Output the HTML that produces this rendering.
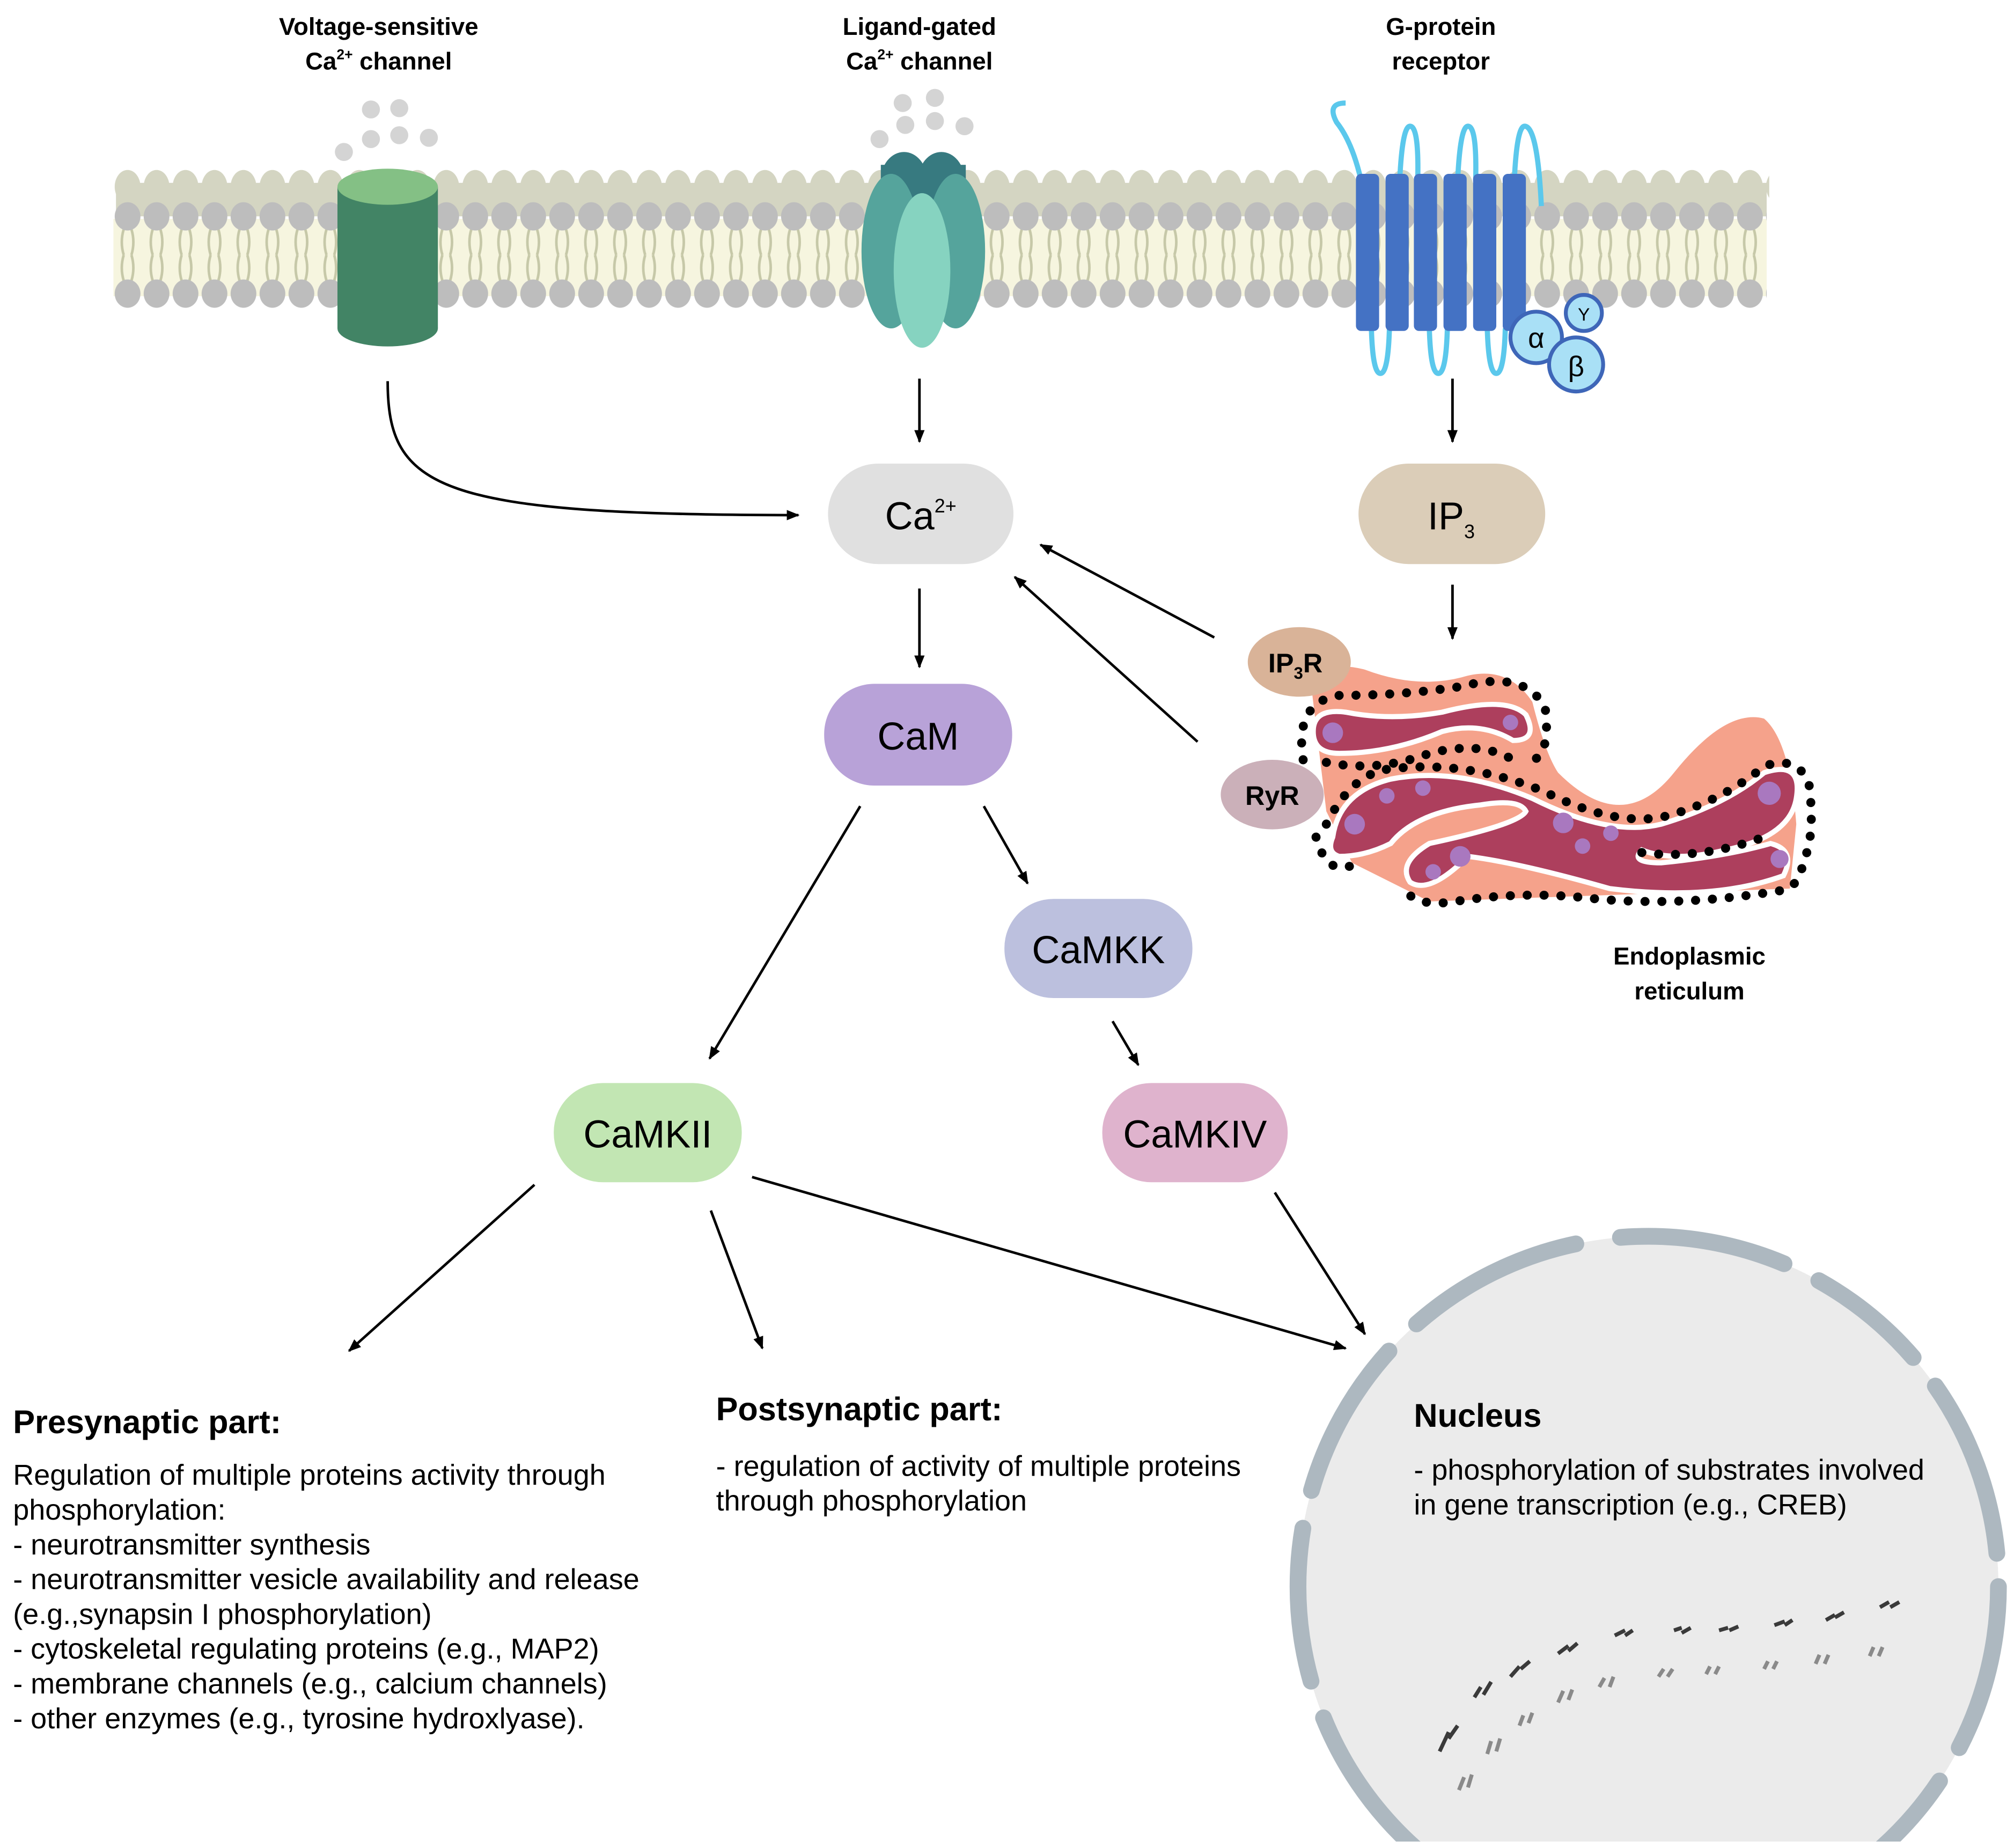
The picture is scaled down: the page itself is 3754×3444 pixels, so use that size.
<!DOCTYPE html>
<html><head><meta charset="utf-8"><style>
html,body{margin:0;padding:0;background:#fff}
svg{display:block}
text{font-family:"Liberation Sans",Arial,sans-serif}
</style></head><body>
<svg width="3754" height="3444" viewBox="0 0 1564 1435" xmlns="http://www.w3.org/2000/svg">
<defs>
<marker id="ah" markerWidth="10" markerHeight="8" refX="9" refY="4" orient="auto" markerUnits="userSpaceOnUse">
<path d="M0,0 L10,4 L0,8 Z" fill="#000"/></marker>
<pattern id="headsT" x="88" y="148" width="22.5" height="40" patternUnits="userSpaceOnUse">
<ellipse cx="11" cy="20" rx="10" ry="11" fill="#bdbdbd"/></pattern>
<pattern id="headsB" x="88" y="208" width="22.5" height="40" patternUnits="userSpaceOnUse">
<ellipse cx="11" cy="20" rx="10" ry="11" fill="#bdbdbd"/></pattern>
<pattern id="tails" x="88" y="178" width="22.5" height="40" patternUnits="userSpaceOnUse">
<path d="M8,0 q-3,10 0,20 M14,0 q3,10 0,20 M8,20 q-3,10 0,20 M14,20 q3,10 0,20" stroke="#c6c8a8" stroke-width="2" fill="none"/></pattern>
<pattern id="bumps" x="88" y="125" width="22.5" height="40" patternUnits="userSpaceOnUse">
<ellipse cx="11" cy="20" rx="10" ry="13" fill="#d4d5c2"/></pattern>
</defs>

<g font-weight="bold" font-size="19" text-anchor="middle" fill="#000">
<text x="294" y="27">Voltage-sensitive</text>
<text x="294" y="54">Ca<tspan font-size="11" dy="-8">2+</tspan><tspan dy="8"> channel</tspan></text>
<text x="714" y="27">Ligand-gated</text>
<text x="714" y="54">Ca<tspan font-size="11" dy="-8">2+</tspan><tspan dy="8"> channel</tspan></text>
<text x="1119" y="27">G-protein</text>
<text x="1119" y="54">receptor</text>
</g>

<rect x="90" y="142" width="1282" height="26" fill="#d4d5c2"/>
<rect x="88" y="125" width="1286" height="35" fill="url(#bumps)"/>
<rect x="88" y="170" width="1284" height="60" fill="#f6f5df"/>
<rect x="88" y="178" width="1284" height="40" fill="url(#tails)"/>
<rect x="88" y="148" width="1284" height="40" fill="url(#headsT)"/>
<rect x="88" y="208" width="1284" height="40" fill="url(#headsB)"/>

<g fill="#d4d4d4">
<circle cx="267" cy="118" r="7"/><circle cx="288" cy="108" r="7"/><circle cx="310" cy="105" r="7"/><circle cx="333" cy="107" r="7"/><circle cx="288" cy="85" r="7"/><circle cx="310" cy="84" r="7"/>
<circle cx="683" cy="108" r="7"/><circle cx="703" cy="97" r="7"/><circle cx="726" cy="94" r="7"/><circle cx="749" cy="98" r="7"/><circle cx="701" cy="80" r="7"/><circle cx="726" cy="76" r="7"/>
</g>

<rect x="262" y="145" width="78" height="110" fill="#428465"/>
<ellipse cx="301" cy="255" rx="39" ry="14" fill="#428465"/>
<ellipse cx="301" cy="145" rx="39" ry="14" fill="#84c085"/>

<ellipse cx="702" cy="140" rx="18" ry="22" fill="#377a80"/>
<ellipse cx="731" cy="140" rx="18" ry="22" fill="#377a80"/>
<rect x="684" y="128" width="66" height="30" fill="#377a80"/>
<ellipse cx="692" cy="195" rx="23" ry="60" fill="#55a49c"/>
<ellipse cx="742" cy="195" rx="23" ry="60" fill="#55a49c"/>
<ellipse cx="716" cy="210" rx="22" ry="60" fill="#86d3c0"/>

<g fill="none" stroke="#5bc8ec" stroke-width="4">
<path d="M1057,140 Q1050,110 1038,95 Q1030,80 1045,80"/>
<path d="M1087,140 Q1089,98 1095,98 Q1102,98 1101,140"/>
<path d="M1132,140 Q1134,98 1140,98 Q1147,98 1146,140"/>
<path d="M1176,140 Q1178,98 1184,98 Q1194,98 1197,160"/>
<path d="M1065,255 Q1066,290 1072,290 Q1078,290 1079,255"/>
<path d="M1110,255 Q1111,290 1117,290 Q1123,290 1124,255"/>
<path d="M1155,255 Q1156,290 1162,290 Q1168,290 1169,255"/>
</g>
<g fill="#4472c4">
<rect x="1053" y="135" width="18" height="122" rx="4"/><rect x="1076" y="135" width="18" height="122" rx="4"/><rect x="1098" y="135" width="18" height="122" rx="4"/><rect x="1121" y="135" width="18" height="122" rx="4"/><rect x="1144" y="135" width="18" height="122" rx="4"/><rect x="1167" y="135" width="18" height="122" rx="4"/>
</g>
<g fill="#a9e0f6" stroke="#3e66b8" stroke-width="3">
<circle cx="1230" cy="243" r="14"/>
<circle cx="1193" cy="262" r="20"/>
<circle cx="1224" cy="283" r="21"/>
</g>
<g text-anchor="middle" fill="#000">
<text x="1230" y="249" font-size="14">Y</text>
<text x="1193" y="270" font-size="22">α</text>
<text x="1224" y="292" font-size="22">β</text>
</g>

<g stroke="#000" stroke-width="2" fill="none" marker-end="url(#ah)">
<path d="M301,296 C301,380 340,400 620,400"/>
<path d="M714,294 L714,343"/>
<path d="M1128,294 L1128,343"/>
<path d="M1128,454 L1128,496"/>
<path d="M714,457 L714,518"/>
<path d="M943,495 L808,423"/>
<path d="M930,576 L788,448"/>
<path d="M764,626 L798,686"/>
<path d="M668,626 L551,822"/>
<path d="M864,793 L884,827"/>
<path d="M415,920 L271,1049"/>
<path d="M552,940 L592,1047"/>
<path d="M584,914 L1045,1047"/>
<path d="M990,926 L1060,1036"/>
</g>

<g>
<rect x="643" y="360" width="144" height="78" rx="39" fill="#e0e0e0"/>
<rect x="1055" y="360" width="145" height="78" rx="39" fill="#dbcdb8"/>
<rect x="640" y="531" width="146" height="79" rx="39" fill="#b8a2d8"/>
<rect x="780" y="698" width="146" height="77" rx="38" fill="#bcc0de"/>
<rect x="430" y="841" width="146" height="77" rx="38" fill="#c2e6b3"/>
<rect x="856" y="841" width="144" height="77" rx="38" fill="#dfb3cd"/>
</g>
<g font-size="30" text-anchor="middle" fill="#000">
<text x="715" y="411">Ca<tspan font-size="15" dy="-13">2+</tspan></text>
<text x="1127" y="411">IP<tspan font-size="15" dy="7">3</tspan></text>
<text x="713" y="582">CaM</text>
<text x="853" y="748">CaMKK</text>
<text x="503" y="891">CaMKII</text>
<text x="928" y="891">CaMKIV</text>
</g>

<path d="M1018,530 Q1030,512 1060,520 Q1100,535 1135,526 Q1170,515 1190,545 Q1200,585 1210,600 Q1260,650 1300,600 Q1340,550 1370,558 Q1390,575 1395,640 L1390,690 L1110,700 L1050,670 L1030,630 Z" fill="#f5a28b"/>
<g fill="#ad3f5d" stroke="#fff" stroke-width="4">
<path d="M1020,565 Q1022,550 1045,553 Q1080,560 1120,553 Q1170,540 1185,555 Q1195,575 1175,575 Q1150,560 1120,568 Q1080,585 1040,585 Q1018,585 1020,565 Z"/>
<path d="M1035,650 Q1040,615 1080,605 Q1130,595 1190,620 Q1250,650 1290,640 Q1340,625 1370,600 Q1400,590 1395,620 Q1390,650 1340,660 Q1300,670 1275,660 Q1265,670 1290,670 Q1340,665 1375,655 Q1395,660 1385,680 Q1330,700 1250,690 Q1180,670 1140,665 Q1110,695 1095,685 Q1085,670 1110,655 Q1180,640 1185,630 Q1180,620 1150,625 Q1100,630 1080,655 Q1060,665 1040,665 Q1030,662 1035,650 Z"/>
</g>
<g fill="#a978bf">
<circle cx="1035" cy="569" r="8"/><circle cx="1173" cy="561" r="6"/>
<circle cx="1052" cy="640" r="8"/><circle cx="1077" cy="618" r="6"/><circle cx="1105" cy="612" r="6"/>
<circle cx="1214" cy="639" r="8"/><circle cx="1251" cy="647" r="6"/><circle cx="1229" cy="657" r="6"/>
<circle cx="1374" cy="616" r="9"/><circle cx="1382" cy="667" r="7"/><circle cx="1134" cy="665" r="8"/><circle cx="1113" cy="677" r="6"/>
</g>
<g fill="none" stroke="#000" stroke-width="7" stroke-linecap="round" stroke-dasharray="0.1 13">
<path d="M1012,590 Q1005,545 1040,540 Q1090,540 1135,533 Q1185,520 1200,550 Q1205,590 1185,592"/>
<path d="M1030,592 Q1070,600 1110,585 Q1150,575 1175,590"/>
<path d="M1030,640 Q1050,600 1080,597 Q1140,590 1200,615 Q1260,645 1300,632 Q1340,620 1370,595 Q1390,588 1400,600"/>
<path d="M1022,650 Q1030,680 1050,672"/>
<path d="M1405,610 Q1410,650 1400,670 Q1398,690 1380,692 Q1300,705 1230,697 Q1180,692 1130,700 Q1100,705 1090,690"/>
<path d="M1275,662 Q1320,668 1370,650"/>
</g>
<ellipse cx="1009" cy="514" rx="40" ry="27" fill="#d9b398"/>
<ellipse cx="988" cy="617" rx="40" ry="27" fill="#cbb0b9"/>
<g font-size="21" font-weight="bold" text-anchor="middle">
<text x="1006" y="522">IP<tspan font-size="13" dy="5">3</tspan><tspan dy="-5">R</tspan></text>
<text x="988" y="625">RyR</text>
</g>
<g font-size="19" font-weight="bold" text-anchor="middle">
<text x="1312" y="749">Endoplasmic</text>
<text x="1312" y="776">reticulum</text>
</g>

<circle cx="1280" cy="1232" r="272" fill="#ebebeb"/>
<circle cx="1280" cy="1232" r="272" fill="none" stroke="#adb8c0" stroke-width="13" stroke-linecap="round" stroke-dasharray="130 30 95 28 140 32 110 35 150 30 120 30 125 30 140 35"/>
<rect x="1000" y="1430" width="564" height="10" fill="#fff"/>
<g fill="none" stroke-width="3">
<path d="M1118,1360 L1125,1345 M1125,1350 L1132,1340 M1145,1318 L1150,1310 M1152,1316 L1158,1306 M1173,1302 L1180,1294 M1181,1296 L1188,1290 M1210,1284 L1218,1278 M1218,1282 L1225,1276 M1254,1270 L1262,1266 M1262,1270 L1268,1266 M1300,1266 L1306,1264 M1306,1268 L1313,1264 M1335,1266 L1342,1264 M1343,1266 L1350,1263 M1378,1262 L1386,1259 M1386,1262 L1392,1258 M1418,1258 L1425,1254 M1425,1256 L1432,1252 M1460,1248 L1467,1244 M1468,1248 L1475,1244" stroke="#3a3a3a"/>
<path d="M1133,1390 L1137,1380 M1140,1388 L1143,1378 M1155,1362 L1158,1352 M1162,1360 L1165,1350 M1180,1340 L1183,1332 M1187,1338 L1190,1330 M1210,1322 L1214,1313 M1218,1320 L1221,1312 M1242,1310 L1246,1303 M1250,1310 L1253,1302 M1288,1302 L1292,1296 M1295,1302 L1299,1296 M1325,1300 L1328,1294 M1332,1300 L1335,1294 M1370,1296 L1373,1290 M1377,1296 L1380,1290 M1410,1292 L1413,1285 M1417,1292 L1420,1285 M1452,1286 L1455,1279 M1459,1286 L1462,1279" stroke="#8a8a8a"/>
</g>

<g fill="#000">
<text x="10" y="1113" font-size="25.5" font-weight="bold">Presynaptic part:</text>
<g font-size="22.5">
<text x="10" y="1153">Regulation of multiple proteins activity through</text>
<text x="10" y="1180">phosphorylation:</text>
<text x="10" y="1207">- neurotransmitter synthesis</text>
<text x="10" y="1234">- neurotransmitter vesicle availability and release</text>
<text x="10" y="1261">(e.g.,synapsin I phosphorylation)</text>
<text x="10" y="1288">- cytoskeletal regulating proteins (e.g., MAP2)</text>
<text x="10" y="1315">- membrane channels (e.g., calcium channels)</text>
<text x="10" y="1342">- other enzymes (e.g., tyrosine hydroxlyase).</text>
</g>
<text x="556" y="1103" font-size="25.5" font-weight="bold">Postsynaptic part:</text>
<g font-size="22.5">
<text x="556" y="1146">- regulation of activity of multiple proteins</text>
<text x="556" y="1173">through phosphorylation</text>
</g>
<text x="1098" y="1108" font-size="25.5" font-weight="bold">Nucleus</text>
<g font-size="22.5">
<text x="1098" y="1149">- phosphorylation of substrates involved</text>
<text x="1098" y="1176">in gene transcription (e.g., CREB)</text>
</g>
</g>
</svg>
</body></html>
